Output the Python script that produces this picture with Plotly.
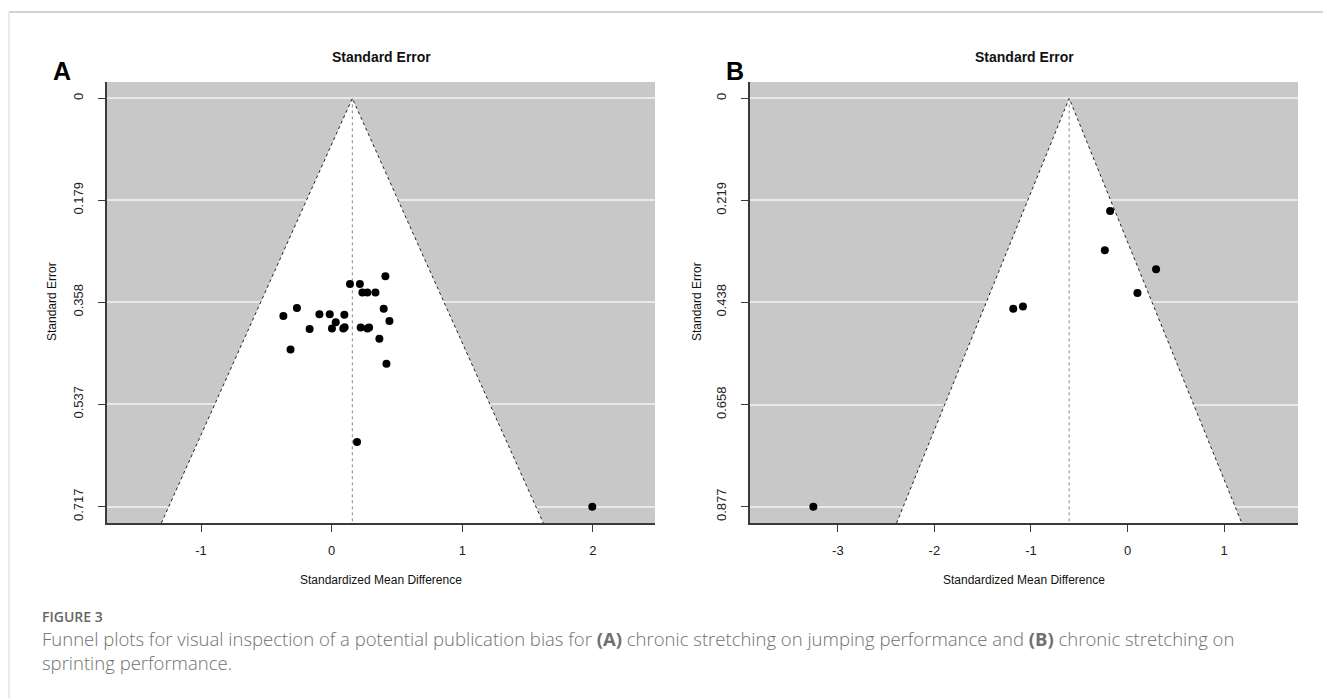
import plotly.graph_objects as go

# page is 1331x698; the html body has an 8px margin, so the figure is drawn 8px in
OFF = 8
W, H = 1331 - OFF, 698 - OFF

# ---------------- data ----------------
smd_a = [0.411, 0.140, 0.216, 0.235, 0.273, 0.335, -0.266, -0.370, -0.094, -0.015,
         0.097, 0.398, 0.031, 0.442, -0.169, 0.002, 0.089, 0.099, 0.222, 0.273,
         0.286, 0.365, -0.315, 0.419, 0.194, 1.995]
se_a = [0.3125, 0.326, 0.326, 0.341, 0.341, 0.341, 0.368, 0.382, 0.379, 0.379,
        0.380, 0.3695, 0.393, 0.391, 0.405, 0.404, 0.404, 0.402, 0.4025, 0.404,
        0.4025, 0.422, 0.441, 0.466, 0.6035, 0.717]
est_a = 0.158
yticks_a = [0, 0.179, 0.358, 0.537, 0.717]
yticklabels_a = ["0", "0.179", "0.358", "0.537", "0.717"]
xticks_a = [-1, 0, 1, 2]
xticklabels_a = ["-1", "0", "1", "2"]

smd_b = [-0.180, -0.235, 0.296, 0.103, -1.083, -1.183, -3.254]
se_b = [0.242, 0.326, 0.367, 0.418, 0.447, 0.452, 0.877]
est_b = -0.604
yticks_b = [0, 0.219, 0.438, 0.658, 0.877]
yticklabels_b = ["0", "0.219", "0.438", "0.658", "0.877"]
xticks_b = [-3, -2, -1, 0, 1]
xticklabels_b = ["-3", "-2", "-1", "0", "1"]

xrange_a = [-1.72, 2.475]
yrange_a = [0.7457, -0.0287]
xrange_b = [-3.91, 1.766]
yrange_b = [0.912, -0.0351]

# ---------------- styles ----------------
GRAY = "#c8c8c8"
GRID = "#e9e9e9"
AX = "#3a3a3a"
FONT = "Liberation Sans"

def px_x(p):
    return (p - OFF) / W

def px_y(p):
    return 1 - (p - OFF) / H

fig = go.Figure()

def add_panel(xs, ses, est, yr, xaxis, yaxis):
    sebot = yr[0]
    fig.add_trace(go.Scatter(
        x=[est - 1.96 * sebot, est, est + 1.96 * sebot, est - 1.96 * sebot],
        y=[sebot, 0, sebot, sebot], fill="toself", fillcolor="white",
        mode="lines", line=dict(width=0, color="white"),
        xaxis=xaxis, yaxis=yaxis, hoverinfo="skip", showlegend=False))
    fig.add_trace(go.Scatter(
        x=[est - 1.96 * sebot, est, est + 1.96 * sebot],
        y=[sebot, 0, sebot], mode="lines",
        line=dict(color="#222", width=1, dash="dot"),
        xaxis=xaxis, yaxis=yaxis, hoverinfo="skip", showlegend=False))
    fig.add_trace(go.Scatter(
        x=[est, est], y=[0, sebot], mode="lines",
        line=dict(color="#888", width=1, dash="dot"),
        xaxis=xaxis, yaxis=yaxis, hoverinfo="skip", showlegend=False))
    fig.add_trace(go.Scatter(
        x=xs, y=ses, mode="markers",
        marker=dict(color="black", size=8),
        xaxis=xaxis, yaxis=yaxis, showlegend=False))

add_panel(smd_a, se_a, est_a, yrange_a, "x", "y")
add_panel(smd_b, se_b, est_b, yrange_b, "x2", "y2")

ytop, ybot = 82, 523
dom_y = [px_y(ybot), px_y(ytop)]

xcommon = dict(showgrid=False, zeroline=False, showline=True, linecolor=AX,
               linewidth=1.5, ticks="outside", ticklen=7, tickcolor=AX, tickwidth=1,
               tickfont=dict(family=FONT, size=13, color="#222"),
               ticklabelstandoff=8)
ycommon = dict(showgrid=True, gridcolor=GRID, gridwidth=1.5, zeroline=False,
               showline=True, linecolor=AX, linewidth=1.5, ticks="outside",
               ticklen=7, tickcolor=AX, tickwidth=1, tickangle=-90,
               tickfont=dict(family=FONT, size=13, color="#222"),
               ticklabelstandoff=10)

fig.update_layout(
    width=W, height=H,
    margin=dict(l=0, r=0, t=0, b=0),
    paper_bgcolor="white", plot_bgcolor=GRAY,
    xaxis=dict(domain=[px_x(107), px_x(655)], range=xrange_a, tickvals=xticks_a,
               ticktext=xticklabels_a, anchor="y", **xcommon),
    yaxis=dict(domain=dom_y, range=yrange_a, tickvals=yticks_a,
               ticktext=yticklabels_a, anchor="x", **ycommon),
    xaxis2=dict(domain=[px_x(750), px_x(1298)], range=xrange_b, tickvals=xticks_b,
                ticktext=xticklabels_b, anchor="y2", **xcommon),
    yaxis2=dict(domain=dom_y, range=yrange_b, tickvals=yticks_b,
                ticktext=yticklabels_b, anchor="x2", **ycommon),
    showlegend=False,
)

ann = []
def text(x, y, s, size, color="#111", bold=False, family=FONT, angle=0,
         xanchor="center", weight=None, align="center"):
    w = weight if weight is not None else ("bold" if bold else "normal")
    ann.append(dict(x=px_x(x), y=px_y(y), xref="paper", yref="paper", text=s,
                    showarrow=False, textangle=angle, xanchor=xanchor, yanchor="middle",
                    align=align,
                    font=dict(family=family, size=size, color=color, weight=w)))

for cx, ax_x, letter_x, letter in [(381, 52, 62, "A"), (1024, 697, 735, "B")]:
    text(cx, 57, "Standard Error", 14, bold=True)
    text(cx, 580, "Standardized Mean Difference", 12)
    text(ax_x, 302, "Standard Error", 12, angle=-90)
    text(letter_x, 71, letter, 25, color="#000", bold=True)

CAP = "Open Sans"
text(40, 616, "FIGURE 3", 14, color="#666666", family=CAP, xanchor="left", weight=600)
text(40, 650, "Funnel plots for visual inspection of a potential publication bias for "
     "<b>(A)</b> chronic stretching on jumping performance and <b>(B)</b> chronic stretching on"
     "<br>sprinting performance.",
     18.5, color="#707070", family=CAP, xanchor="left", weight=300, align="left")

fig.update_layout(annotations=ann)

fig.add_shape(type="line", xref="paper", yref="paper", x0=px_x(9), x1=1,
              y0=px_y(12), y1=px_y(12), line=dict(color="#c4c4c4", width=1.5))
fig.add_shape(type="line", xref="paper", yref="paper", x0=px_x(9), x1=px_x(9),
              y0=px_y(12), y1=0, line=dict(color="#d4d4d4", width=1))

fig.write_html("out.html")
